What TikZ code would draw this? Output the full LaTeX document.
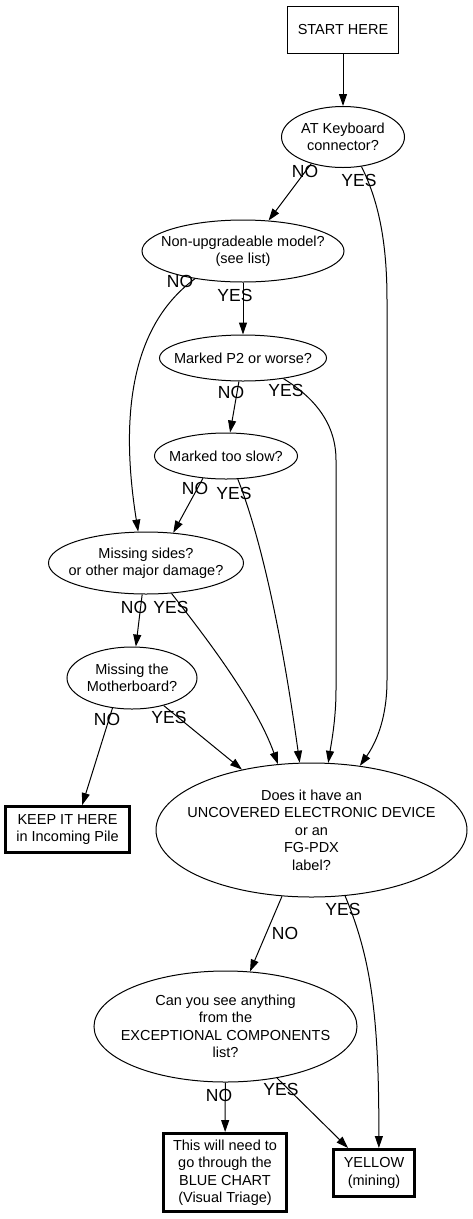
\documentclass[tikz,border=0pt]{standalone}
\usepackage{fontspec}
\setmainfont{Liberation Sans}
\usepackage{tikz}
\usetikzlibrary{shapes.geometric, arrows.meta, positioning}
\newcommand{\chartfont}{\fontsize{14.5}{17.5}\selectfont}
\newcommand{\answerfont}{\fontsize{17.5}{17.5}\selectfont}
\tikzstyle{startbox} = [rectangle, minimum width=111pt, minimum height=47pt, inner sep=0pt, text centered, draw=black, line width=1pt, font=\chartfont]
\tikzstyle{question} = [ellipse, inner xsep=-40pt, inner ysep=-15pt, align=center, draw=black, line width=1pt, font=\chartfont]
\tikzstyle{outcome} = [rectangle, inner sep=0pt, align=center, draw=black, line width=3pt, font=\chartfont]
\tikzstyle{answer} = [inner sep=0pt, text height=12.5pt, text depth=0pt, font=\answerfont]
\tikzstyle{arrow} = [line width=1pt, -{Triangle[length=12pt, width=8pt]}]

\begin{document}
\begin{tikzpicture}[x=1pt, y=1pt, node distance=100pt]
    \useasboundingbox (0,0) rectangle (472,-1219);
    \node (start) [startbox] at (343,-30) {START HERE};
    \node (keyboard) [question, minimum width=123pt, minimum height=61pt, below of=start, yshift=-7pt] {AT Keyboard\\connector?};
    \node (model) [question, minimum width=202pt, minimum height=62pt, below of=keyboard, xshift=-100pt, yshift=-14pt] {Non-upgradeable model?\\(see list)};
    \node (ptwo) [question, minimum width=167pt, minimum height=46pt, below of=model, yshift=-7pt] {Marked P2 or worse?};
    \node (slow) [question, minimum width=143pt, minimum height=46pt, below of=ptwo, xshift=-17pt, yshift=2pt] {Marked too slow?};
    \node (sides) [question, minimum width=195pt, minimum height=62pt, below of=slow, xshift=-80pt, yshift=-7pt] {Missing sides?\\or other major damage?};
    \node (board) [question, minimum width=130pt, minimum height=62pt, below of=sides, xshift=-14pt, yshift=-15pt] {Missing the\\Motherboard?};
    \node (keep) [outcome, minimum width=124pt, minimum height=46pt, below of=board, xshift=-64.5pt, yshift=-51.5pt] {KEEP IT HERE\\in Incoming Pile};
    \node (device) [question, minimum width=311pt, minimum height=134pt, right of=keep, xshift=144pt, yshift=-0.5pt] {Does it have an\\UNCOVERED ELECTRONIC DEVICE\\or an\\FG-PDX\\label?};
    \node (except) [question, minimum width=263pt, minimum height=111pt, below of=device, xshift=-86pt, yshift=-96.5pt] {Can you see anything\\from the\\EXCEPTIONAL COMPONENTS\\list?};
    \node (blue) [outcome, minimum width=123pt, minimum height=78pt, below of=except, xshift=-0.5pt, yshift=-46pt] {This will need to\\go through the\\BLUE CHART\\(Visual Triage)};
    \node (yellow) [outcome, minimum width=81pt, minimum height=47pt, right of=blue, xshift=49pt, yshift=-0.5pt] {YELLOW\\(mining)};

    \node (no1) [answer] at (305,-171) {NO};
    \node (yes1) [answer] at (359,-180) {YES};
    \node (no2) [answer] at (180,-281) {NO};
    \node (yes2) [answer] at (235,-295) {YES};
    \node (no3) [answer] at (231,-392) {NO};
    \node (yes3) [answer] at (286,-390) {YES};
    \node (no4) [answer] at (195,-488) {NO};
    \node (yes4) [answer] at (234,-493) {YES};
    \node (no5) [answer] at (134,-607) {NO};
    \node (yes5) [answer] at (171,-607) {YES};
    \node (no6) [answer] at (107,-719) {NO};
    \node (yes6) [answer] at (169,-717) {YES};
    \node (yes7) [answer] at (343,-909) {YES};
    \node (no7) [answer] at (285,-933) {NO};
    \node (no8) [answer] at (219,-1095) {NO};
    \node (yes8) [answer] at (281,-1089) {YES};

    \draw [arrow] (start) -- (keyboard);
    \draw [arrow] (keyboard.-140) -- (model.50);
    \draw [arrow] (keyboard.-58) .. controls (378,-200) and (387,-240) .. (387,-300) -- (387,-680) .. controls (387,-715) and (378,-740) .. (device.53);
    \draw [arrow] (model) -- (ptwo);
    \draw [arrow] (model.-150) .. controls (125,-330) and (122,-430) .. (sides.104);
    \draw [arrow] (ptwo) -- (slow);
    \draw [arrow] (ptwo.-27) .. controls (310,-395) and (336,-420) .. (336,-460) -- (336,-690) .. controls (336,-720) and (331,-745) .. (device.76);
    \draw [arrow] (slow.-136) -- (sides.48);
    \draw [arrow] (slow.-63) .. controls (258,-530) and (280,-620) .. (device.100);
    \draw [arrow] (sides) -- (board);
    \draw [arrow] (sides.-50) .. controls (200,-630) and (255,-700) .. (device.117);
    \draw [arrow] (board.-123) -- (keep.59);
    \draw [arrow] (board.-41) -- (device.139);
    \draw [arrow] (device.-114) -- (except.66);
    \draw [arrow] (device.-63) .. controls (372,-960) and (379,-1020) .. (yellow.79);
    \draw [arrow] (except) -- (blue);
    \draw [arrow] (except.-45) -- (yellow.136);
\end{tikzpicture}
\end{document}
